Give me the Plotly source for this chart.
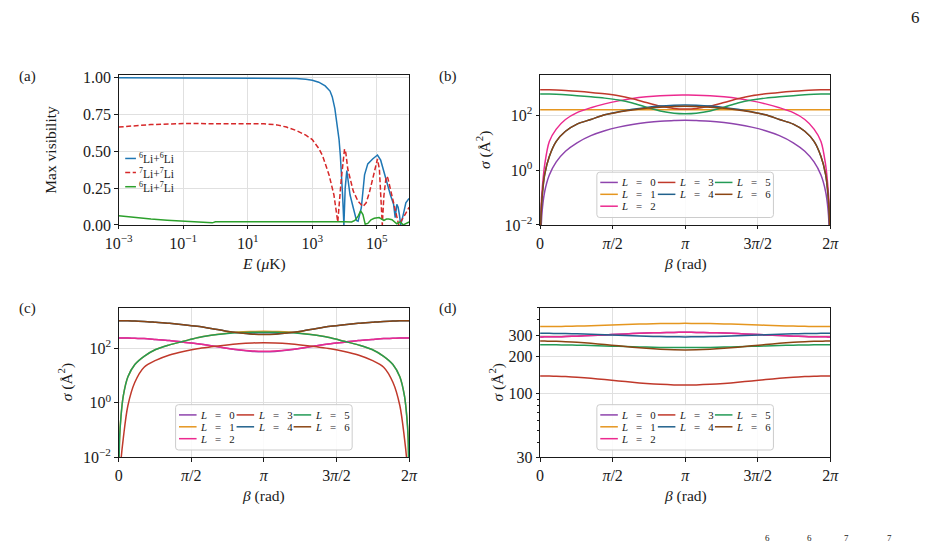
import plotly.graph_objects as go

W, H = 939, 546
FONT = "Liberation Serif"
INK = "#1a1a1a"
GRID = "#e0e0e0"

# ---------------- panel (a): max visibility vs collision energy ----------------
E_66 = [0.001, 0.1, 10, 100, 316.2, 631, 1000, 1585, 2512, 3548, 4169, 5012, 5888, 6761,
        7413, 8128, 8710, 9550, 10470, 11750, 13180, 14790, 18620, 23440, 26300, 33110,
        41690, 52480, 74130, 104700, 131800, 186200, 263000, 331100, 371500, 416900,
        457100, 501200, 549500, 660700, 794300, 1000000]
VIS_66 = [1.0, 1.0, 1.0, 0.999, 0.996, 0.99, 0.983, 0.97, 0.945, 0.91, 0.87, 0.79, 0.69, 0.58,
          0.47, 0.33, 0.2, 0.0, 0.25, 0.37, 0.30, 0.205, 0.117, 0.03, 0.025, 0.117,
          0.34, 0.415, 0.448, 0.475, 0.44, 0.316, 0.205, 0.14, 0.05, 0.14,
          0.12, 0.07, 0.0, 0.07, 0.15, 0.18]

E_77 = [0.001, 0.01, 0.1, 1, 10, 31.62, 79.43, 158.5, 316.2, 631, 1000, 1585, 2089, 3311,
        4677, 6166, 7943, 9120, 10000, 10960, 12590, 18620, 26300, 37150, 46770, 58880,
        74130, 104700, 120200, 131800, 147900, 166000, 195000, 218800, 295100, 398100,
        478600, 707900, 1000000]
VIS_77 = [0.665, 0.682, 0.689, 0.69, 0.69, 0.687, 0.68, 0.665, 0.642, 0.61, 0.58, 0.52, 0.47, 0.34,
          0.205, 0.02, 0.316, 0.46, 0.515, 0.49, 0.38, 0.23, 0.16, 0.125, 0.15, 0.22,
          0.316, 0.448, 0.38, 0.2, 0.0, 0.2, 0.33, 0.32, 0.2, 0.08,
          0.0, 0.06, 0.12]

E_67 = [0.001, 0.003162, 0.01, 0.03162, 0.1, 0.3162, 0.7943, 1.0, 10, 100, 1000, 10000, 16600,
        20890, 26300, 31620, 37150, 43650, 52480, 66070, 83180, 117500, 166000, 199500,
        234400, 295100, 416900, 524800, 660700, 1000000]
VIS_67 = [0.062, 0.05, 0.04, 0.032, 0.025, 0.018, 0.014, 0.021, 0.022, 0.022, 0.022, 0.021, 0.02,
          0.03, 0.06, 0.095, 0.07, 0.005, 0.01, 0.035, 0.045, 0.05, 0.03, 0.04,
          0.04, 0.035, 0.008, 0.02, 0.0, 0.02]

# ---------------- panels (b)-(d): cross sections vs beta ----------------
BETA = [0.0, 0.02, 0.05, 0.1, 0.2, 0.35, 0.55, 0.8, 1.1, 1.4, 1.7, 2.0, 2.3, 2.6, 2.9, 3.1416,
        3.3832, 3.6832, 3.9832, 4.2832, 4.5832, 4.8832, 5.1832, 5.4832, 5.7332, 5.9332,
        6.0832, 6.1832, 6.2332, 6.2632, 6.2832]

SIG_B_L0 = [1e-4, 0.0066, 0.041, 0.166, 0.66, 2.0, 4.9, 10.0, 18.2, 27.5, 37.2, 46.8, 55.0, 61.7, 64.6, 66.1,
            64.6, 61.7, 55.0, 46.8, 37.2, 27.5, 18.2, 10.0, 4.9, 2.0, 0.66, 0.166, 0.041, 0.0066, 1e-4]
SIG_B_L1 = [162, 162, 162, 162, 162, 162, 162, 162, 162, 162, 162, 162, 162, 162, 162, 162,
            162, 162, 162, 162, 162, 162, 162, 162, 162, 162, 162, 162, 162, 162, 162]
SIG_B_L2 = [1e-4, 0.040, 0.25, 1.58, 11.2, 31.6, 70.8, 126, 191, 263, 339, 417, 479, 525, 548, 550,
            548, 525, 479, 417, 339, 263, 191, 126, 70.8, 31.6, 11.2, 1.58, 0.25, 0.040, 1e-4]
SIG_B_L3 = [871, 871, 871, 871, 871, 851, 813, 759, 692, 617, 525, 407, 295, 219, 178, 170,
            178, 219, 295, 407, 525, 617, 692, 759, 813, 851, 871, 871, 871, 871, 871]
SIG_B_L4 = [1e-4, 0.0224, 0.141, 0.708, 3.16, 11.2, 26.3, 47.9, 70.8, 105, 135, 166, 195, 219, 234, 240,
            234, 219, 195, 166, 135, 105, 70.8, 47.9, 26.3, 11.2, 3.16, 0.708, 0.141, 0.0224, 1e-4]
SIG_B_L5 = [603, 603, 603, 603, 603, 589, 562, 525, 479, 427, 363, 282, 200, 145, 120, 115,
            120, 145, 200, 282, 363, 427, 479, 525, 562, 589, 603, 603, 603, 603, 603]
SIG_B_L6 = [1e-4, 0.0224, 0.141, 0.708, 3.16, 11.2, 26.3, 47.9, 70.8, 105, 132, 158, 182, 200, 209, 214,
            209, 200, 182, 158, 132, 105, 70.8, 47.9, 26.3, 11.2, 3.16, 0.708, 0.141, 0.0224, 1e-4]

SIG_C_L0 = [234, 234, 234, 234, 234, 229, 224, 209, 191, 166, 145, 123, 102, 85.1, 75.9, 74.1,
            75.9, 85.1, 102, 123, 145, 166, 191, 209, 224, 229, 234, 234, 234, 234, 234]
SIG_C_L1 = [1e-4, 0.050, 0.316, 1.78, 8.91, 25.1, 50.1, 89.1, 132, 178, 240, 295, 347, 389, 407, 417,
            407, 389, 347, 295, 240, 178, 132, 89.1, 50.1, 25.1, 8.91, 1.78, 0.316, 0.050, 1e-4]
SIG_C_L2 = [234, 234, 234, 234, 234, 229, 224, 209, 191, 166, 145, 123, 102, 87.1, 79.4, 77.6,
            79.4, 87.1, 102, 123, 145, 166, 191, 209, 224, 229, 234, 234, 234, 234, 234]
SIG_C_L3 = [1e-4, 0.001, 0.0079, 0.050, 0.794, 5.62, 20.0, 35.5, 56.2, 75.9, 95.5, 112, 129, 145, 155, 158,
            155, 145, 129, 112, 95.5, 75.9, 56.2, 35.5, 20.0, 5.62, 0.794, 0.050, 0.0079, 0.001, 1e-4]
SIG_C_L4 = [1000, 1000, 1000, 1000, 1000, 977, 955, 891, 813, 724, 631, 525, 427, 363, 331, 324,
            331, 363, 427, 525, 631, 724, 813, 891, 955, 977, 1000, 1000, 1000, 1000, 1000]
SIG_C_L5 = [1e-4, 0.050, 0.316, 1.78, 8.91, 25.1, 50.1, 89.1, 132, 178, 240, 295, 339, 372, 385, 385,
            385, 372, 339, 295, 240, 178, 132, 89.1, 50.1, 25.1, 8.91, 1.78, 0.316, 0.050, 1e-4]
SIG_C_L6 = [1000, 1000, 1000, 1000, 1000, 977, 955, 891, 813, 724, 631, 525, 427, 363, 324, 316,
            324, 363, 427, 525, 631, 724, 813, 891, 955, 977, 1000, 1000, 1000, 1000, 1000]

SIG_D_L0 = [290, 290, 290, 290.1, 290.3, 290.8, 291.9, 294.0, 297.1, 300.8, 304.7, 308.4, 311.7, 314.1, 315.6, 316,
            315.6, 314.1, 311.7, 308.4, 304.7, 300.8, 297.1, 294.0, 291.9, 290.8, 290.3, 290.1, 290, 290, 290]
SIG_D_L1 = [352, 352, 352, 352.1, 352.2, 352.7, 353.6, 355.3, 358.0, 361.1, 364.4, 367.6, 370.3, 372.4, 373.7, 374,
            373.7, 372.4, 370.3, 367.6, 364.4, 361.1, 358.0, 355.3, 353.6, 352.7, 352.2, 352.1, 352, 352, 352]
SIG_D_L2 = [290, 290, 290, 290.1, 290.3, 290.8, 291.9, 294.0, 297.1, 300.8, 304.7, 308.4, 311.7, 314.1, 315.6, 316,
            315.6, 314.1, 311.7, 308.4, 304.7, 300.8, 297.1, 294.0, 291.9, 290.8, 290.3, 290.1, 290, 290, 290]
SIG_D_L3 = [139, 139, 139, 138.9, 138.8, 138.3, 137.4, 135.7, 133.0, 129.9, 126.6, 123.4, 120.7, 118.6, 117.3, 117,
            117.3, 118.6, 120.7, 123.4, 126.6, 129.9, 133.0, 135.7, 137.4, 138.3, 138.8, 138.9, 139, 139, 139]
SIG_D_L4 = [310, 310, 310, 309.9, 309.8, 309.4, 308.5, 307.0, 304.5, 301.7, 298.7, 295.8, 293.3, 291.4, 290.3, 290,
            290.3, 291.4, 293.3, 295.8, 298.7, 301.7, 304.5, 307.0, 308.5, 309.4, 309.8, 309.9, 310, 310, 310]
SIG_D_L5 = [250, 250, 250, 250, 249.9, 249.6, 249.0, 248.0, 246.5, 244.6, 242.7, 240.8, 239.2, 237.9, 237.2, 237,
            237.2, 237.9, 239.2, 240.8, 242.7, 244.6, 246.5, 248.0, 249.0, 249.6, 249.9, 250, 250, 250, 250]
SIG_D_L6 = [268, 268, 268, 267.9, 267.6, 266.8, 265.0, 261.8, 256.8, 251.0, 244.9, 239.0, 233.8, 229.9, 227.6, 227,
            227.6, 229.9, 233.8, 239.0, 244.9, 251.0, 256.8, 261.8, 265.0, 266.8, 267.6, 267.9, 268, 268, 268]

L_LABELS = ["<i>L</i>\u00a0\u00a0\u00a0=\u00a0\u00a0\u00a0%d" % i for i in range(7)]
L_COLORS = ["#8e44ad", "#e5961f", "#ec2a8f", "#c0392b", "#21618c", "#239b56", "#8b4513"]

PI_TICKS = [0, 1.5708, 3.1416, 4.7124, 6.2832]
PI_TEXT = ["0", "<i>π</i>/2", "<i>π</i>", "3<i>π</i>/2", "2<i>π</i>"]

# ---------------- layout geometry (pixels) ----------------
PANEL_A = (107.3, 71.7, 405.0, 225.7)
PANEL_B = (539.3, 71.7, 836.7, 225.7)
PANEL_C = (107.3, 310.7, 405.0, 464.3)
PANEL_D = (539.3, 310.7, 836.7, 464.3)


def fx(x):
    return x / W


def fy(y):
    return 1 - y / H


def domains(p):
    return [fx(p[0]), fx(p[2])], [fy(p[3]), fy(p[1])]


fig = go.Figure()

# panel (a) traces
fig.add_trace(go.Scatter(x=E_66, y=VIS_66, mode="lines", name="6Li+6Li",
                         line=dict(color="#1f77b4", width=1.5), xaxis="x", yaxis="y"))
fig.add_trace(go.Scatter(x=E_77, y=VIS_77, mode="lines", name="7Li+7Li",
                         line=dict(color="#d62728", width=1.5, dash="5px,2.5px"), xaxis="x", yaxis="y"))
fig.add_trace(go.Scatter(x=E_67, y=VIS_67, mode="lines", name="6Li+7Li",
                         line=dict(color="#2ca02c", width=1.5), xaxis="x", yaxis="y"))

SETS = [
    ("x2", "y2", [SIG_B_L0, SIG_B_L1, SIG_B_L2, SIG_B_L3, SIG_B_L4, SIG_B_L5, SIG_B_L6]),
    ("x3", "y3", [SIG_C_L0, SIG_C_L1, SIG_C_L2, SIG_C_L3, SIG_C_L4, SIG_C_L5, SIG_C_L6]),
    ("x4", "y4", [SIG_D_L0, SIG_D_L1, SIG_D_L2, SIG_D_L3, SIG_D_L4, SIG_D_L5, SIG_D_L6]),
]
for xa, ya, series in SETS:
    for i, s in enumerate(series):
        fig.add_trace(go.Scatter(x=BETA, y=s, mode="lines", name="L = %d" % i,
                                 line=dict(color=L_COLORS[i], width=1.5, shape="spline", smoothing=0.9),
                                 xaxis=xa, yaxis=ya))

tickfont = dict(family=FONT, size=16, color=INK)
base = dict(showline=True, mirror=True, linecolor=INK, linewidth=1, ticks="outside", ticklen=3.5,
            tickwidth=0.8, tickcolor=INK, showgrid=True, gridcolor=GRID, gridwidth=0.8,
            zeroline=False, tickfont=tickfont, layer="above traces")

layout = dict(width=W, height=H, margin=dict(l=0, r=0, t=0, b=0), showlegend=False,
              paper_bgcolor="white", plot_bgcolor="white")

xd, yd = domains(PANEL_A)
layout["xaxis"] = dict(base, domain=xd, anchor="y", type="log", range=[-3, 6],
                       tickvals=[1e-3, 1e-1, 1e1, 1e3, 1e5],
                       ticktext=["10<sup>−3</sup>", "10<sup>−1</sup>", "10<sup>1</sup>",
                                 "10<sup>3</sup>", "10<sup>5</sup>"])
layout["yaxis"] = dict(base, domain=yd, anchor="x", range=[0, 1.02],
                       tickvals=[0, 0.25, 0.5, 0.75, 1.0],
                       ticktext=["0.00", "0.25", "0.50", "0.75", "1.00"])

for k, p in ((2, PANEL_B), (3, PANEL_C), (4, PANEL_D)):
    xd, yd = domains(p)
    layout["xaxis%d" % k] = dict(base, domain=xd, anchor="y%d" % k, range=[0, 6.2832],
                                 tickvals=PI_TICKS, ticktext=PI_TEXT)
    if k < 4:
        layout["yaxis%d" % k] = dict(base, domain=yd, anchor="x%d" % k, type="log", range=[-2, 3.48],
                                     tickvals=[0.01, 1, 100],
                                     ticktext=["10<sup>−2</sup>", "10<sup>0</sup>", "10<sup>2</sup>"])
    else:
        layout["yaxis4"] = dict(base, domain=yd, anchor="x4", type="log", range=[1.4771, 2.7007],
                                tickvals=[30, 100, 200, 300], ticktext=["30", "100", "200", "300"],
                                minor=dict(tickvals=[40, 50, 60, 70, 80, 90, 400, 500], ticks="outside",
                                           ticklen=2, tickwidth=0.6, tickcolor=INK, showgrid=False))

fig.update_layout(**layout)

ann = []
shapes = []


def text(x, y, s, size=16, xanchor="center", yanchor="middle", angle=0):
    ann.append(dict(x=fx(x), y=fy(y), xref="paper", yref="paper", text=s, showarrow=False,
                    xanchor=xanchor, yanchor=yanchor, textangle=angle, borderpad=0,
                    font=dict(family=FONT, size=size, color=INK)))


# panel letters
text(4, 73, "(a)", size=15, xanchor="left")
text(435, 73, "(b)", size=15, xanchor="left")
text(4, 311, "(c)", size=15, xanchor="left")
text(435, 311, "(d)", size=15, xanchor="left")

# axis titles
for p in (PANEL_A, PANEL_B, PANEL_C, PANEL_D):
    cx = (p[0] + p[2]) / 2
    lbl = "<i>E</i> (<i>μ</i>K)" if p is PANEL_A else "<i>β</i> (rad)"
    text(cx, p[3] + 40, lbl, size=15.5)
text(37.7, (PANEL_A[1] + PANEL_A[3]) / 2, "Max visibility", size=15.5, angle=-90)
text(482, (PANEL_B[1] + PANEL_B[3]) / 2, "<i>σ</i> (Å<sup>2</sup>)", size=15.5, angle=-90)
text(53, (PANEL_C[1] + PANEL_C[3]) / 2, "<i>σ</i> (Å<sup>2</sup>)", size=15.5, angle=-90)
text(495, (PANEL_D[1] + PANEL_D[3]) / 2, "<i>σ</i> (Å<sup>2</sup>)", size=15.5, angle=-90)

# page number and the cut-off caption fragments at the bottom edge
text(924, 13, "6", size=17)
for xx, s in ((772, "6"), (815, "6"), (853, "7"), (897, "7")):
    text(xx, 541, s, size=9, yanchor="top")

# legend of panel (a) (frameless)
A_ITEMS = [("<sup>6</sup>Li+<sup>6</sup>Li", "#1f77b4", "solid"),
           ("<sup>7</sup>Li+<sup>7</sup>Li", "#d62728", "5px,2.5px"),
           ("<sup>6</sup>Li+<sup>7</sup>Li", "#2ca02c", "solid")]
for j, (lab, col, dash) in enumerate(A_ITEMS):
    yy = 157.5 + 14.5 * j
    shapes.append(dict(type="line", xref="paper", yref="paper", x0=fx(114), x1=fx(125),
                       y0=fy(yy), y1=fy(yy), line=dict(color=col, width=1.5, dash=dash), layer="above"))
    text(127, yy, lab, size=11.5, xanchor="left")

# boxed legends of panels (b)-(d), matplotlib-like 3 columns
COLS = [[0, 1, 2], [3, 4], [5, 6]]
COL_OFF = [3.5, 62.5, 121.0]
for p in (PANEL_B, PANEL_C, PANEL_D):
    cx = (p[0] + p[2]) / 2
    bx0, bx1 = cx - 90.5, cx + 90.5
    by1 = p[3] - 7.6
    by0 = by1 - 46.5
    r = 3
    path = ("M {a},{b} L {c},{b} Q {C},{b} {C},{d} L {C},{e} Q {C},{B} {c},{B} L {a},{B} "
            "Q {A},{B} {A},{e} L {A},{d} Q {A},{b} {a},{b} Z").format(
        a=fx(bx0 + r), c=fx(bx1 - r), A=fx(bx0), C=fx(bx1),
        b=fy(by0), B=fy(by1), d=fy(by0 + r), e=fy(by1 - r))
    shapes.append(dict(type="path", xref="paper", yref="paper", path=path,
                       fillcolor="rgba(255,255,255,0.85)", line=dict(color="#cccccc", width=1),
                       layer="above"))
    for ci, col in enumerate(COLS):
        for ri, li in enumerate(col):
            yy = by0 + 10.5 + 12.2 * ri
            x0 = bx0 + COL_OFF[ci]
            shapes.append(dict(type="line", xref="paper", yref="paper", x0=fx(x0), x1=fx(x0 + 18),
                               y0=fy(yy), y1=fy(yy), line=dict(color=L_COLORS[li], width=1.5),
                               layer="above"))
            text(x0 + 20.5, yy, L_LABELS[li], size=10.8, xanchor="left")

fig.update_layout(annotations=ann, shapes=shapes)
fig.write_html("out.html")
